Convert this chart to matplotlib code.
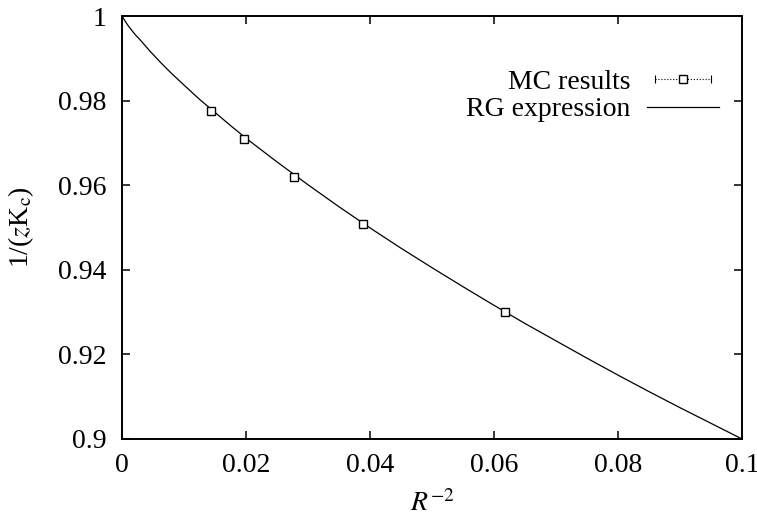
import matplotlib
matplotlib.use("Agg")
import matplotlib.pyplot as plt
from matplotlib.lines import Line2D
from matplotlib.legend_handler import HandlerLine2D, HandlerTuple

plt.rcParams['font.family'] = 'Liberation Serif'
plt.rcParams['mathtext.fontset'] = 'stix'

# Monte Carlo critical couplings
mc_x = [0.0143, 0.0197, 0.0278, 0.0388, 0.0618]
mc_y = [0.9775, 0.9709, 0.9619, 0.9508, 0.9300]

# renormalization-group prediction
rg_x = [0.0, 0.0005, 0.001, 0.002, 0.0029, 0.0045, 0.0061, 0.008, 0.0102,
        0.0125, 0.015, 0.0175, 0.02, 0.025, 0.03, 0.035, 0.04, 0.045, 0.05,
        0.055, 0.06, 0.065, 0.07, 0.075, 0.08, 0.085, 0.09, 0.095, 0.1]
rg_y = [1.0, 0.9988, 0.9977, 0.9958, 0.9944, 0.9917, 0.9892, 0.9864, 0.9834,
        0.9803, 0.9772, 0.9741, 0.9711, 0.9655, 0.9601, 0.9549, 0.9499,
        0.9451, 0.9405, 0.9360, 0.9316, 0.9273, 0.9232, 0.9191, 0.9151,
        0.9112, 0.9074, 0.9037, 0.9]

xticks = [0, 0.02, 0.04, 0.06, 0.08, 0.1]
yticks = [0.9, 0.92, 0.94, 0.96, 0.98, 1]
xtick_labels = ['0', '0.02', '0.04', '0.06', '0.08', '0.1']
ytick_labels = ['0.9', '0.92', '0.94', '0.96', '0.98', '1']

FS = 20

fig = plt.figure(figsize=(7.57, 5.2), dpi=100)
ax = fig.add_axes([0.1612, 0.1558, 0.8190, 0.8134])

ax.plot(rg_x, rg_y, color='black', lw=0.9)
ax.plot(mc_x, mc_y, ls='none', marker='s', ms=5.5, mfc='white',
        mec='black', mew=1.0)

ax.set_xlim(0, 0.1)
ax.set_ylim(0.9, 1.0)
ax.set_xticks(xticks)
ax.set_xticklabels(xtick_labels)
ax.set_yticks(yticks)
ax.set_yticklabels(ytick_labels)
ax.tick_params(direction='in', top=True, right=True, length=6, width=1.1,
               labelsize=FS)
ax.tick_params(axis='x', pad=10)
ax.tick_params(axis='y', pad=11)
for s in ax.spines.values():
    s.set_linewidth(1.4)

ax.set_xlabel(r'$R^{-2}$', fontsize=FS, labelpad=9)
ax.set_ylabel(r'1/($z$K$_{\rm c}$)', fontsize=FS, labelpad=16)

# legend entries: one legend per row so the labels line up on the right
caps = Line2D([], [], color='black', ls=':', lw=0.8, marker='|', ms=6,
              mew=0.8)
sq = Line2D([], [], ls='none', marker='s', ms=5.5, mfc='white',
            mec='black', mew=1.0)
rg_line = Line2D([], [], color='black', lw=0.9)

common = dict(loc='upper right', frameon=False, fontsize=FS,
              markerfirst=False, handlelength=2.6, handletextpad=0.6,
              borderpad=0, borderaxespad=0)
leg1 = ax.legend([(caps, sq)], ['MC results'],
                 handler_map={caps: HandlerLine2D(numpoints=2),
                              sq: HandlerLine2D(numpoints=1),
                              tuple: HandlerTuple(ndivide=1, pad=0)},
                 bbox_to_anchor=(0.963, 0.874), **common)
ax.add_artist(leg1)
ax.legend([rg_line], ['RG expression'], bbox_to_anchor=(0.963, 0.809),
          **common)

fig.savefig('out.png', dpi=100)
